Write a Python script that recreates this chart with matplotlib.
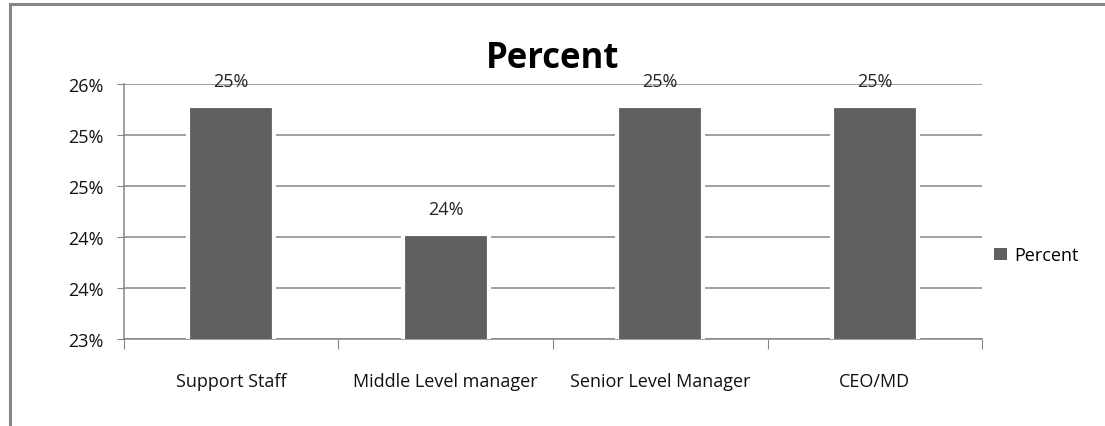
import matplotlib.pyplot as plt
from matplotlib.patches import Rectangle
from matplotlib.ticker import FixedLocator, FuncFormatter
import numpy as np

# Datos
categories = ['Support Staff', 'Middle Level manager', 'Senior Level Manager', 'CEO/MD']
percent = [0.2528, 0.2403, 0.2528, 0.2528]
y_ticks = [0.23, 0.235, 0.24, 0.245, 0.25, 0.255]

plt.rcParams['font.family'] = ['Open Sans', 'DejaVu Sans']

grid_color = '#868686'
bar_color = '#606060'

fig = plt.figure(figsize=(11.05, 4.27), dpi=100)
ax = fig.add_axes([0.1122, 0.2037, 0.7765, 0.5972])

# marco exterior (cortado a la derecha y abajo)
fig.patches.append(Rectangle((10 / 1105, -0.1), 1.2, 1 - 5 / 427 + 0.1,
                             transform=fig.transFigure, fill=False,
                             edgecolor=grid_color, linewidth=2.2))

x = np.arange(len(categories))
bars = ax.bar(x, percent, width=0.40, color=bar_color, edgecolor='white',
              linewidth=3, zorder=3, label='Percent')

ax.set_xlim(-0.5, len(categories) - 0.5)
ax.set_ylim(y_ticks[0], y_ticks[-1])


def pct(v, pos=None):
    return '%d%%' % int(np.floor(v * 100 + 0.5 + 1e-9))


ax.yaxis.set_major_locator(FixedLocator(y_ticks))
ax.yaxis.set_major_formatter(FuncFormatter(pct))
ax.grid(axis='y', color=grid_color, linewidth=1.1, zorder=0)
ax.tick_params(axis='y', length=5, color=grid_color, labelsize=13, pad=10,
               labelcolor='#111111')

# marcas entre categorías, etiquetas en el centro
ax.xaxis.set_major_locator(FixedLocator(np.arange(len(categories) + 1) - 0.5))
ax.xaxis.set_major_formatter(FuncFormatter(lambda v, p: ''))
ax.xaxis.set_minor_locator(FixedLocator(x))
ax.set_xticklabels(categories, minor=True)
ax.tick_params(axis='x', which='major', length=7, color=grid_color)
ax.tick_params(axis='x', which='minor', length=0, labelsize=13, pad=24,
               labelcolor='#111111')

for side in ['top', 'right']:
    ax.spines[side].set_visible(False)
for side in ['left', 'bottom']:
    ax.spines[side].set_color(grid_color)
    ax.spines[side].set_linewidth(1.1)

for b, v in zip(bars, percent):
    ax.annotate(pct(v), (b.get_x() + b.get_width() / 2, v), xytext=(0, 18),
                textcoords='offset points', ha='center', va='center',
                fontsize=13, color='#222222')

ax.set_title('Percent', fontsize=25, fontweight='bold', pad=12)

leg = ax.legend(loc='center left', bbox_to_anchor=(0.885, 0.4), bbox_transform=fig.transFigure,
                frameon=False, fontsize=13, handlelength=0.7, handleheight=0.7,
                handletextpad=0.4)
leg.legend_handles[0].set_linewidth(0)

plt.savefig('out.png', dpi=100)
